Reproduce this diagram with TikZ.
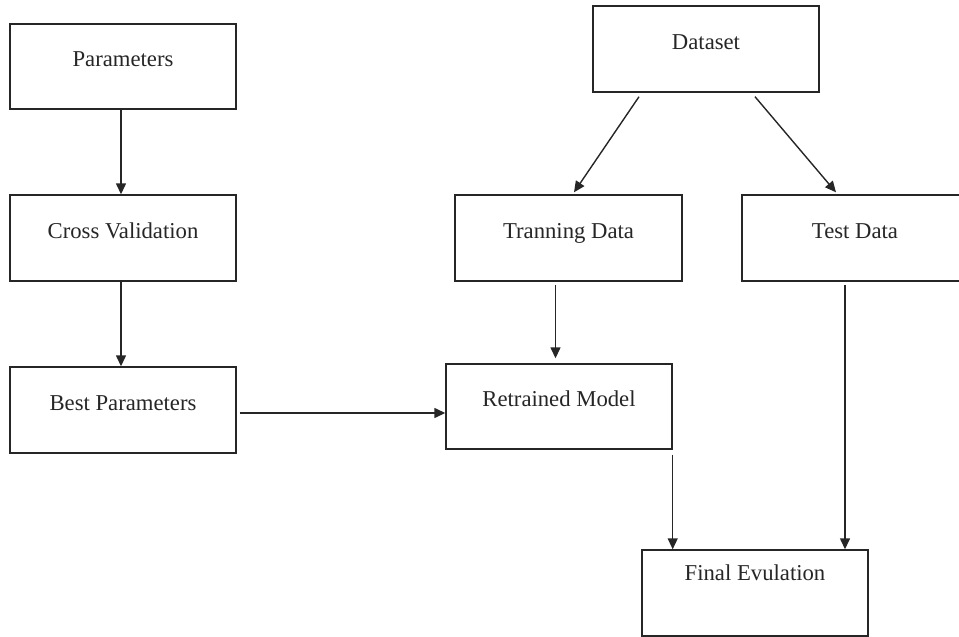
\documentclass[tikz,border=0pt]{standalone}
\usepackage{fontspec}
\setmainfont{Liberation Serif}
\usetikzlibrary{arrows.meta,calc}
\definecolor{ink}{HTML}{262626}
\tikzset{
  box/.style={draw=ink, line width=1.4pt, rectangle, minimum width=226pt, minimum height=86pt,
    inner sep=0pt, text=ink, font=\fontsize{22.7}{27}\selectfont, text height=16pt, text depth=16pt},
  arr/.style={draw=ink, line width=1.4pt, -{Triangle[length=11pt,width=10pt]}}
}
\begin{document}
\begin{tikzpicture}[x=1pt,y=-1pt]
\useasboundingbox (0,0) rectangle (959,637);
\clip (0,0) rectangle (959,637);
\node[box, minimum height=85pt] (par) at (123,66.5) {Parameters};
\node[box] (cv) at (123,238) {Cross Validation};
\node[box] (best) at (123,410) {Best Parameters};
\node[box] (ds) at (706,49) {Dataset};
\node[box, minimum width=227pt] (tr) at (568.5,238) {Tranning Data};
\node[box] (td) at (855,238) {Test Data};
\node[box, minimum height=85pt] (rm) at (559,406.5) {Retrained Model};
\node[box, text depth=41pt] (fe) at (755,593) {Final Evulation};

\draw[arr] ([xshift=-2pt]par.south) -- ([xshift=-2pt]cv.north);
\draw[arr] ([xshift=-2pt]cv.south) -- ([xshift=-2pt]best.north);
\draw[arr] ([shift={(3,3)}]best.east) coordinate (b1) -- (b1 -| rm.west);
\draw[arr] ([shift={(-67,4)}]ds.south) -- ([shift={(5.5,-2)}]tr.north);
\draw[arr] ([shift={(49,4)}]ds.south) -- ([shift={(-19,-2)}]td.north);
\draw[arr] ([shift={(-13,3)}]tr.south) coordinate (t1) -- ([yshift=5pt]t1 |- rm.north);
\draw[arr] ([yshift=-5pt]rm.south east) coordinate (r1) -- (r1 |- fe.north);
\draw[arr] ([shift={(-10,3)}]td.south) coordinate (d1) -- (d1 |- fe.north);
\end{tikzpicture}
\end{document}
